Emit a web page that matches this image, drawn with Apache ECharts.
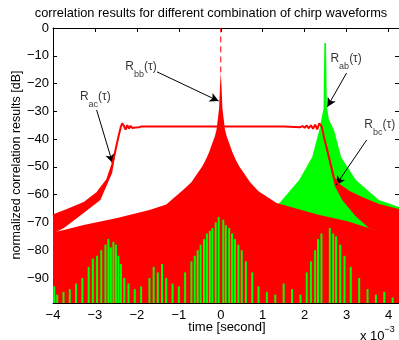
<!DOCTYPE html>
<html><head><meta charset="utf-8">
<script src="https://cdn.jsdelivr.net/npm/echarts@6/dist/echarts.min.js"></script>
<style>html,body{margin:0;padding:0;background:#fff}#c{width:399px;height:340px}</style>
</head><body><div id="c"></div>
<script>
// ---- tick labels ----
const xTicks = [-4,-3,-2,-1,0,1,2,3,4];
const yTicks = [0,-10,-20,-30,-40,-50,-60,-70,-80,-90];
const X_MIN = -4, X_MAX = 4.25, Y_MIN = -99, Y_MAX = 0;

// ---- R_bb(tau): envelope of the auto-correlation sidelobes (filled to bottom) ----
const rbbX = [-4.0,-3.74,-3.27,-2.47,-1.7,-1.3,-0.9,-0.7,-0.55,-0.45,-0.36,-0.28,-0.2,-0.14,-0.1,-0.04,-0.015,0,0.015,0.04,0.1,0.14,0.2,0.28,0.36,0.45,0.55,0.7,0.9,1.33,2.35,3.0,3.53,4.25];
const rbbY = [-73.5,-72.7,-70.9,-68.4,-65.5,-63.5,-58.3,-55.5,-52.2,-50,-47.5,-44.8,-41.4,-39,-36.5,-29,-20,-16,-20,-29,-36.5,-39,-41.4,-44.8,-47.5,-50,-52.2,-55.5,-58.8,-63,-67.3,-69.5,-72,-74.5];
const rbbTopX = [0,0];
const rbbTopY = [-16,0];

// ---- R_ab(tau): envelope of cross-correlation (green, filled to bottom) ----
const rabX = [1.2,1.4,1.87,2.18,2.35,2.45,2.47,2.51,2.53,2.58,2.7,2.87,3.22,3.77,4.25];
const rabY = [-65,-63,-54.7,-46.4,-36.7,-29,-5.4,-5.4,-28.4,-33,-36.7,-46.4,-54.7,-61.9,-64.4];

// ---- R_ac / R_bc(tau): main red curve ----
const racX = [-4,-3.66,-3.26,-2.95,-2.71,-2.59,-2.51,-2.43,-2.38,-2.35,-2.31,-2.27,-2.23,-2.19,-2.15,-2.11,-2.07,-2.03,-1.99,-1.95,-1.9,-1.5,1.5,1.9,1.95,2.0,2.05,2.1,2.15,2.2,2.25,2.3,2.35,2.41,2.46,2.58,2.70,2.82,3.06,3.36,3.77,4.25];
const racY = [-67.5,-65.5,-63,-59.4,-54.7,-49.3,-43.9,-38.5,-35.5,-34.3,-35.2,-36.6,-35.0,-36.2,-35.2,-36.0,-35.3,-35.8,-35.4,-35.7,-35.5,-35.5,-35.5,-35.7,-35.3,-35.9,-35.1,-36.1,-35.0,-36.3,-34.8,-36.5,-34.3,-35.5,-39.2,-46.4,-54,-56.5,-59,-61.2,-63.7,-65.5];
// lower edges of the oscillation bands below the curve
const acBandX = [-4,-3.74,-3.27,-2.87,-2.59,-2.45];
const acBandY = [-74,-72,-66.6,-61.9,-52.2,-40];
const bcBandX = [2.46,2.58,2.72,2.9,3.2,3.53,4.25];
const bcBandY = [-40,-48,-57,-62,-67.5,-72,-75];

// ---- green noise spikes in the floor ----
const noiseX = [-3.97,-3.9,-3.75,-3.6,-3.45,-3.3,-3.15,-3.05,-2.95,-2.85,-2.75,-2.68,-2.62,-2.56,-2.5,-2.44,-2.38,-2.3,-2.2,-2.05,-1.9,-1.7,-1.6,-1.5,-1.4,-1.3,-1.15,-1.0,-0.85,-0.7,-0.62,-0.55,-0.48,-0.4,-0.33,-0.26,-0.2,-0.12,-0.05,0.06,0.12,0.2,0.27,0.34,0.42,0.5,0.6,0.75,0.9,1.1,1.3,1.5,1.7,1.9,2.05,2.15,2.25,2.32,2.4,2.6,2.68,2.75,2.85,2.95,3.1,3.3,3.5,3.7,3.9,4.1];
const noiseY = [-93,-96,-95,-94,-92,-90,-86,-83,-82,-80,-78,-76,-79,-77,-78,-82,-85,-90,-92,-94,-93,-90,-86,-88,-85,-90,-92,-93,-88,-84,-82,-80,-78,-76,-74,-73,-72,-70,-68,-69,-71,-72,-74,-76,-78,-80,-84,-88,-93,-95,-96,-92,-94,-96,-88,-84,-80,-76,-74,-72,-74,-75,-78,-82,-86,-90,-94,-96,-95,-97];

// ---- annotations ----
const annNames = ['ac','bb','ab','bc'];
const annLabelX = [-2.99,-1.9,2.99,3.79];
const annLabelY = [-25.9,-15.1,-12.2,-36];
const arrowFromX = [-2.96,-1.52,3.0,3.48];
const arrowFromY = [-29.5,-15.8,-16.2,-40.3];
const arrowToX = [-2.58,-0.05,2.54,2.75];
const arrowToY = [-48.6,-26.3,-28.4,-56.5];

const FONT = 'Liberation Sans, Arial, Helvetica, sans-serif';
const RED = '#ff0000', GREEN = '#00ff00';
const zip = (a,b) => a.map((v,i)=>[v,b[i]]);
const minus = v => String(v).replace('-', '\u2212');

function poly(upX, upY, loX, loY, color, z){
  return {type:'custom', z, silent:true, clip:true, data:[[0,0]],
    renderItem(params, api){
      const pts = [];
      for (let i=0;i<upX.length;i++) pts.push(api.coord([upX[i], upY[i]]));
      for (let i=loX.length-1;i>=0;i--) pts.push(api.coord([loX[i], loY[i]]));
      return {type:'polygon', shape:{points:pts}, style:{fill:color}};
    }};
}

const chart = echarts.init(document.getElementById('c'), null, {renderer:'canvas'});
const axisCommon = {type:'value', min:X_MIN, max:X_MAX, splitLine:{show:false},
  axisLine:{show:true, onZero:false, lineStyle:{color:'#000', width:1}},
  axisTick:{show:true, inside:true, length:4, customValues:xTicks, lineStyle:{color:'#000'}}};
const yCommon = {type:'value', min:Y_MIN, max:Y_MAX, splitLine:{show:false},
  axisLine:{show:true, onZero:false, lineStyle:{color:'#000', width:1}},
  axisTick:{show:true, inside:true, length:4, customValues:yTicks, lineStyle:{color:'#000'}}};

chart.setOption({
  animation:false,
  backgroundColor:'#fff',
  grid:{left:53, top:28, width:347, height:275, containLabel:false},
  xAxis:[
    Object.assign({}, axisCommon, {position:'bottom',
      axisLabel:{customValues:xTicks, color:'#000', fontSize:13, fontFamily:FONT, margin:6, formatter:minus}}),
    Object.assign({}, axisCommon, {position:'top', axisLabel:{show:false}})
  ],
  yAxis:[
    Object.assign({}, yCommon, {position:'left',
      axisLabel:{customValues:yTicks, color:'#000', fontSize:13, fontFamily:FONT, margin:4, formatter:minus}}),
    Object.assign({}, yCommon, {position:'right', axisLabel:{show:false}})
  ],
  graphic:[
    {type:'text', x:211, y:13, style:{text:'correlation results for different combination of chirp waveforms', fontSize:12.8, fontFamily:FONT, fill:'#000', align:'center', verticalAlign:'middle'}},
    {type:'text', x:227, y:327, style:{text:'time [second]', fontSize:13, fontFamily:FONT, fill:'#000', align:'center', verticalAlign:'middle'}},
    {type:'text', x:17, y:165, rotation:Math.PI/2, style:{text:'normalized correlation results [dB]', fontSize:12.5, fontFamily:FONT, fill:'#000', align:'center', verticalAlign:'middle'}},
    {type:'text', x:360, y:334, style:{text:'{a|x 10}{b|\u22123}', fontFamily:FONT, fill:'#000', align:'left', verticalAlign:'middle',
      rich:{a:{fontSize:13, fontFamily:FONT, verticalAlign:'bottom', lineHeight:18}, b:{fontSize:9, fontFamily:FONT, verticalAlign:'top', lineHeight:18}}}}
  ],
  series:[
    poly(rabX, rabY, [rabX[0], rabX[rabX.length-1]], [Y_MIN, Y_MIN], GREEN, 1),
    poly(rbbX, rbbY, [rbbX[0], rbbX[rbbX.length-1]], [Y_MIN, Y_MIN], RED, 2),
    {type:'custom', z:3, silent:true, clip:true, data:zip(noiseX, noiseY),
      renderItem(params, api){
        const t = api.coord([api.value(0), api.value(1)]);
        const b = api.coord([api.value(0), Y_MIN]);
        return {type:'rect', shape:{x:t[0]-1, y:t[1], width:2, height:b[1]-t[1]}, style:{fill:GREEN}};
      }},
    poly(racX.slice(0,8), racY.slice(0,8), acBandX, acBandY, RED, 4),
    poly(racX.slice(34), racY.slice(34), bcBandX, bcBandY, RED, 4),
    {type:'line', z:5, silent:true, symbol:'none', data:zip(racX, racY), lineStyle:{color:RED, width:2}},
    {type:'line', z:5, silent:true, symbol:'none', data:zip(rbbTopX, rbbTopY), lineStyle:{color:RED, width:1, type:[6,4]},
      markLine:{silent:true, symbol:['none','arrow'], symbolSize:[7,9], label:{show:false},
        lineStyle:{color:'#000', width:1, type:'solid'},
        data: arrowFromX.map((v,i)=>[{coord:[v, arrowFromY[i]]},{coord:[arrowToX[i], arrowToY[i]]}])}},
    {type:'scatter', z:6, silent:true, symbolSize:0,
      data: annNames.map((n,i)=>({name:n, value:[annLabelX[i], annLabelY[i]]})),
      label:{show:true, position:'inside', formatter:p=>'{r|R}{s|'+p.name+'}{r|(\u03c4)}',
        rich:{r:{fontSize:12, fontFamily:FONT, color:'#000', verticalAlign:'top', lineHeight:18},
              s:{fontSize:9, fontFamily:FONT, color:'#000', verticalAlign:'bottom', lineHeight:18}}}}
  ]
});
</script></body></html>
